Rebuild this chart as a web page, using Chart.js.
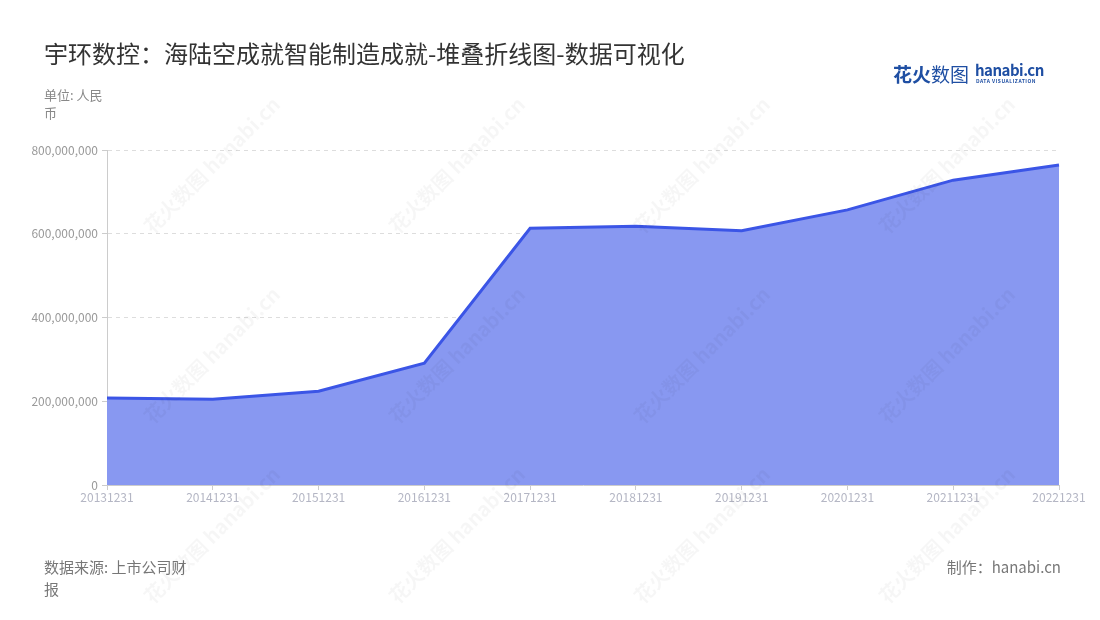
<!DOCTYPE html>
<html>
<head>
<meta charset="utf-8">
<script src="https://cdn.jsdelivr.net/npm/chart.js@4/dist/chart.umd.min.js"></script>
<style>
  body { margin: 0; background: #fff; font-family: "Noto Sans CJK SC", "Noto Sans", sans-serif; }
  #wrap { position: relative; width: 1100px; height: 620px; overflow: hidden; }
  #chart-box { position: absolute; left: 0; top: 0; width: 1100px; height: 620px; }
  .txt { position: absolute; white-space: nowrap; }
  .wm { position: absolute; color: rgba(0,0,0,0.035); font-size: 20px; font-weight: bold; transform: rotate(-45deg); white-space: nowrap; pointer-events: none; }
</style>
</head>
<body>
<div id="wrap">
  <div id="chart-box"><canvas id="area-chart"></canvas></div>
  <div class="txt" style="left:44px; top:35px; font-size:24px; color:#333;">宇环数控：海陆空成就智能制造成就-堆叠折线图-数据可视化</div>
  <div class="txt" style="left:44px; top:86px; font-size:13px; color:#888; line-height:18px; white-space:normal; width:70px;">单位: 人民币</div>
  <div class="txt" style="left:893px; top:60px; font-size:19px; font-weight:bold; color:#1f4fa3;">花火<span style="font-weight:normal">数图</span></div>
  <div class="txt" style="left:975px; top:59px; font-size:15px; font-weight:bold; color:#1f4fa3; letter-spacing:-0.5px;">hanabi.cn</div>
  <div class="txt" style="left:976px; top:77px; font-size:5px; font-weight:bold; color:#1f4fa3; letter-spacing:0.5px;">DATA VISUALIZATION</div>
  <div class="txt" style="left:44px; top:556px; font-size:15px; color:#777; line-height:22px; white-space:normal; width:155px;">数据来源: 上市公司财报</div>
  <div class="txt" style="right:39px; top:556px; font-size:15px; color:#777;">制作：hanabi.cn</div>
</div>
<script>
// 宇环数控 营收 (人民币)
const years = ['20131231', '20141231', '20151231', '20161231', '20171231',
               '20181231', '20191231', '20201231', '20211231', '20221231'];
const revenue = [208000000, 205000000, 224000000, 291000000, 613000000,
                 618000000, 607000000, 657000000, 728000000, 764000000];
const yTicks = [0, 200000000, 400000000, 600000000, 800000000];

// faint watermarks
const wrap = document.getElementById('wrap');
[[120, 150], [365, 150], [610, 150], [855, 150],
 [120, 340], [365, 340], [610, 340], [855, 340],
 [120, 520], [365, 520], [610, 520], [855, 520]].forEach(([x, y]) => {
    const d = document.createElement('div');
    d.className = 'wm';
    d.style.left = x + 'px';
    d.style.top = y + 'px';
    d.textContent = '花火数图 hanabi.cn';
    wrap.appendChild(d);
});

const tickFont = { family: '"Noto Sans CJK SC", "Noto Sans", sans-serif', size: 12 };

const ctx = document.getElementById('area-chart').getContext('2d');
const areaChart = new Chart(ctx, {
    type: 'line',
    data: {
        labels: years,
        datasets: [{
            label: '营业收入',
            data: revenue,
            fill: 'origin',
            backgroundColor: '#8898f1',
            borderColor: '#3b55e6',
            borderWidth: 3,
            pointRadius: 0,
            tension: 0
        }]
    },
    options: {
        responsive: true,
        maintainAspectRatio: false,
        animation: false,
        layout: { padding: { left: 0, right: 41, top: 150, bottom: 105 } },
        plugins: {
            legend: { display: false },
            tooltip: { enabled: false }
        },
        scales: {
            x: {
                offset: false,
                grid: { display: true, drawOnChartArea: false, drawTicks: true, tickLength: 5, color: '#ccc' },
                border: { color: '#ccc' },
                ticks: { color: '#b4b6c4', font: tickFont, maxRotation: 0, autoSkip: false, padding: 0 },
                afterFit: (s) => { s.height = 30; }
            },
            y: {
                min: 0,
                max: 800000000,
                afterBuildTicks: (s) => { s.ticks = yTicks.map(v => ({ value: v })); },
                grid: {
                    color: (c) => c.tick && c.tick.value === 0 ? 'rgba(0,0,0,0)' : '#ddd',
                    tickLength: 5,
                    tickColor: '#ccc'
                },
                border: { color: '#ccc', dash: [4, 4] },
                ticks: {
                    color: '#999',
                    font: tickFont,
                    padding: 4,
                    callback: (v) => v.toLocaleString('en-US')
                },
                afterFit: (s) => { s.width = 107; }
            }
        }
    }
});
</script>
</body>
</html>
